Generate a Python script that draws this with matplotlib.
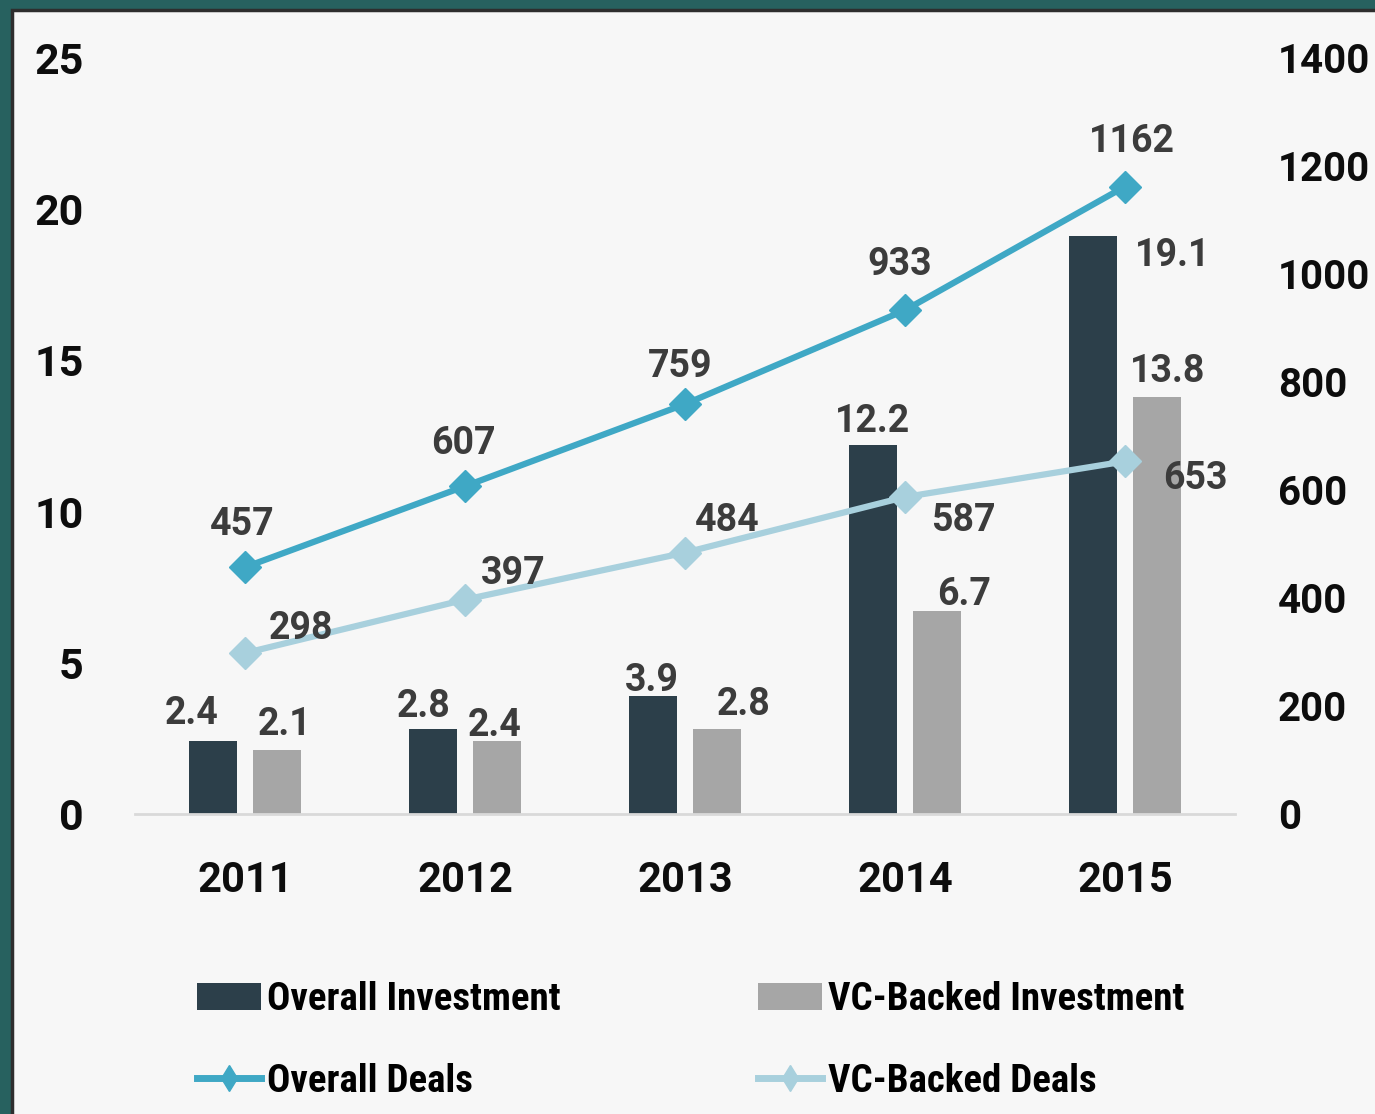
import numpy as np
import matplotlib
matplotlib.use('Agg')
import matplotlib.pyplot as plt
from matplotlib.patches import Rectangle, Patch
from matplotlib.lines import Line2D

# data
years = ['2011', '2012', '2013', '2014', '2015']
overall_inv = [2.4, 2.8, 3.9, 12.2, 19.1]
vc_inv = [2.1, 2.4, 2.8, 6.7, 13.8]
overall_deals = [457, 607, 759, 933, 1162]
vc_deals = [298, 397, 484, 587, 653]

left_ticks = [0, 5, 10, 15, 20, 25]
right_ticks = [0, 200, 400, 600, 800, 1000, 1200, 1400]

# colours
c_dark = '#2c3f4a'
c_gray = '#a6a6a6'
c_line1 = '#3fa8c5'
c_line2 = '#a8d0dd'
c_lbl = '#3c3c3c'

# label offsets in pixels (dx, dy to baseline)
oi_off = [(-21, 17), (-9, 12), (-1, 5), (0, 13), (80, -30)]
vi_off = [(8, 15), (-2, 5), (27, 14), (27, 6), (11, 15)]
od_off = [(-3, 32), (-2, 32), (-5, 27), (-5, 35), (7, 35)]
vd_off = [(56, 14), (48, 16), (42, 22), (58, -34), (70, -28)]

tick_font = ['Roboto', 'DejaVu Sans']
leg_font = ['Liberation Sans Narrow', 'Roboto Condensed', 'Roboto', 'DejaVu Sans']

W, H = 1375, 1114
fig = plt.figure(figsize=(W / 100, H / 100), dpi=100)
fig.patch.set_facecolor('#27615f')
panel = Rectangle((12 / W, -0.01), 1.02, (H - 10) / H + 0.01, transform=fig.transFigure,
                  facecolor='#f7f7f7', edgecolor='#2e2e2e', lw=2.5, zorder=0)
fig.add_artist(panel)

ax = fig.add_axes([135 / W, 300 / H, 1100 / W, 756 / H])
ax.set_facecolor('none')
ax2 = ax.twinx()

x = np.arange(len(years))
off = 0.1455
bw = 0.22
ax.bar(x - off, overall_inv, width=bw, color=c_dark, zorder=2)
ax.bar(x + off, vc_inv, width=bw, color=c_gray, zorder=2)

ax2.plot(x, overall_deals, color=c_line1, lw=4.5, marker='D', markersize=16, zorder=3)
ax2.plot(x, vc_deals, color=c_line2, lw=4.5, marker='D', markersize=16, zorder=3)

lbl_kw = dict(textcoords='offset pixels', ha='center', va='baseline', fontsize=27,
              fontweight='bold', color=c_lbl, family=tick_font)
for i in range(len(years)):
    ax.annotate(f'{overall_inv[i]:.1f}', (x[i] - off, overall_inv[i]), xytext=oi_off[i], **lbl_kw)
    ax.annotate(f'{vc_inv[i]:.1f}', (x[i] + off, vc_inv[i]), xytext=vi_off[i], **lbl_kw)
    ax2.annotate(str(overall_deals[i]), (x[i], overall_deals[i]), xytext=od_off[i], **lbl_kw)
    ax2.annotate(str(vc_deals[i]), (x[i], vc_deals[i]), xytext=vd_off[i], **lbl_kw)

ax.set_xlim(-0.5, 4.5)
ax.set_ylim(0, 25)
ax2.set_ylim(0, 1400)
ax.set_xticks(x, years, fontsize=30, fontweight='bold', family=tick_font, color='#0d0d0d')
ax.set_yticks(left_ticks, [str(t) for t in left_ticks], fontsize=31, fontweight='bold',
              family=tick_font, color='#0d0d0d')
ax2.set_yticks(right_ticks, [str(t) for t in right_ticks], fontsize=29, fontweight='bold',
               family=tick_font, color='#0d0d0d')
ax.tick_params(axis='x', length=0, pad=33)
ax.tick_params(axis='y', length=0, pad=37)
ax2.tick_params(axis='y', length=0, pad=31)

for a in (ax, ax2):
    for s in a.spines.values():
        s.set_visible(False)
ax.spines['bottom'].set_visible(True)
ax.spines['bottom'].set_color('#d9d9d9')
ax.spines['bottom'].set_linewidth(2)

# legend, two columns placed separately
h_oi = Patch(facecolor=c_dark)
h_vi = Patch(facecolor=c_gray)
h_od = Line2D([], [], color=c_line1, lw=5, marker='d', markersize=13)
h_vd = Line2D([], [], color=c_line2, lw=5, marker='d', markersize=13)
leg_kw = dict(loc='upper left', frameon=False, borderpad=0, borderaxespad=0,
              handlelength=1.65, handletextpad=0.15, labelspacing=1.15,
              prop=dict(family=leg_font, weight='bold', size=28))
fig.legend([h_oi, h_od], ['Overall Investment', 'Overall Deals'],
           bbox_to_anchor=(197 / W, 1 - 981 / H), **leg_kw)
fig.legend([h_vi, h_vd], ['VC-Backed Investment', 'VC-Backed Deals'],
           bbox_to_anchor=(758 / W, 1 - 981 / H), **leg_kw)

fig.savefig('out.png', dpi=100, facecolor=fig.get_facecolor())
